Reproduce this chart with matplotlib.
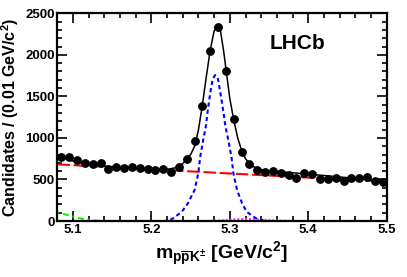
import numpy as np
import matplotlib
matplotlib.use("Agg")
import matplotlib.pyplot as plt
from matplotlib.ticker import MultipleLocator

plt.rcParams['font.family'] = ['Liberation Sans', 'DejaVu Sans']
plt.rcParams['font.weight'] = 'bold'
plt.rcParams['mathtext.fontset'] = 'custom'
plt.rcParams['mathtext.rm'] = 'Liberation Sans:bold'
plt.rcParams['mathtext.it'] = 'Liberation Sans:bold'
plt.rcParams['mathtext.bf'] = 'Liberation Sans:bold'
plt.rcParams['mathtext.default'] = 'rm'

# binned data, 10 MeV bins
mass = [5.085, 5.095, 5.105, 5.115, 5.125, 5.135, 5.145, 5.155, 5.165, 5.175,
        5.185, 5.195, 5.205, 5.215, 5.225, 5.235, 5.245, 5.255, 5.265, 5.275,
        5.285, 5.295, 5.305, 5.315, 5.325, 5.335, 5.345, 5.355, 5.365, 5.375,
        5.385, 5.395, 5.405, 5.415, 5.425, 5.435, 5.445, 5.455, 5.465, 5.475,
        5.485, 5.495]
counts = [766, 770, 730, 698, 686, 702, 630, 654, 642, 650,
          642, 630, 614, 622, 594, 654, 742, 963, 1389, 2050,
          2335, 1810, 1224, 831, 686, 610, 590, 598, 578, 554,
          522, 574, 562, 502, 502, 514, 482, 522, 514, 530,
          486, 470]

# total fit
fit_m = [5.080, 5.100, 5.120, 5.140, 5.160, 5.180, 5.200, 5.220, 5.230, 5.240,
         5.250, 5.255, 5.260, 5.265, 5.270, 5.275, 5.280, 5.284, 5.288, 5.292,
         5.296, 5.300, 5.305, 5.310, 5.315, 5.320, 5.325, 5.330, 5.340, 5.350,
         5.400, 5.450, 5.500]
fit_y = [780, 722, 682, 660, 648, 638, 628, 622, 640, 690,
         800, 900, 1100, 1400, 1740, 2060, 2290, 2345, 2290, 2050,
         1760, 1470, 1215, 1000, 850, 750, 690, 655, 620, 605,
         565, 522, 478]

# signal component
sig_m = [5.215, 5.222, 5.2274, 5.2388, 5.2464, 5.255, 5.2597, 5.2622, 5.266, 5.2693,
         5.2719, 5.2749, 5.2781, 5.2813, 5.2848, 5.288, 5.2914, 5.2944, 5.298, 5.302,
         5.3045, 5.3092, 5.3156, 5.3214, 5.3334, 5.345]
sig_y = [0, 5, 32, 112, 213, 373, 574, 774, 975, 1135,
         1336, 1537, 1710, 1757, 1710, 1537, 1336, 1135, 975, 774,
         574, 373, 213, 112, 32, 0]

# combinatorial background
bkg_m = [5.08, 5.50]
bkg_y = [682, 473]

# partially reconstructed (low mass)
low_m = [5.08, 5.09, 5.10, 5.11, 5.12, 5.13, 5.14, 5.50]
low_y = [105, 80, 55, 30, 15, 5, 0, 0]

# misidentified component
mis_m = [5.27, 5.29, 5.31, 5.33, 5.35, 5.37, 5.40, 5.50]
mis_y = [0, 10, 25, 25, 12, 3, 0, 0]

fig = plt.figure(figsize=(4.07, 2.77), dpi=100)
ax = fig.add_axes([0.141, 0.202, 0.809, 0.750])

ax.plot(low_m, low_y, color='#00ee00', lw=1.4, dashes=(1, 2, 3, 2))
ax.plot(mis_m, mis_y, color='#ff33ff', lw=1.4, dashes=(1, 1))
ax.plot(bkg_m, bkg_y, color='red', lw=1.5, dashes=(6, 1.8))
ax.plot(sig_m, sig_y, color='blue', lw=1.5, dashes=(2, 1.5))
ax.plot(fit_m, fit_y, color='black', lw=1.1)
ax.errorbar(mass, counts, yerr=np.sqrt(counts), xerr=0.005, fmt='o', color='black',
            ms=5.3, elinewidth=1.0, capsize=0)

ax.set_xlim(5.08, 5.5)
ax.set_ylim(0, 2500)
ax.xaxis.set_major_locator(MultipleLocator(0.1))
ax.xaxis.set_minor_locator(MultipleLocator(0.02))
ax.yaxis.set_major_locator(MultipleLocator(500))
ax.yaxis.set_minor_locator(MultipleLocator(100))
ax.tick_params(which='both', direction='in', top=True, right=True, width=1.2,
               labelsize=9.5, pad=2)
ax.tick_params(which='major', length=7)
ax.tick_params(which='minor', length=3.5)
for s in ax.spines.values():
    s.set_linewidth(1.6)

ax.set_ylabel('Candidates / (0.01 GeV/$c^{2}$)', fontsize=11.5, fontweight='bold', labelpad=3)
ax.set_xlabel(r'm$_{\mathrm{p\overline{p}K^{\pm}}}$ [GeV/$c^{2}$]', fontsize=14,
              fontweight='bold', labelpad=3)
ax.text(0.646, 0.855, 'LHCb', transform=ax.transAxes, fontsize=15, fontweight='bold',
        va='center', ha='left')

fig.savefig('out.png', dpi=100)
